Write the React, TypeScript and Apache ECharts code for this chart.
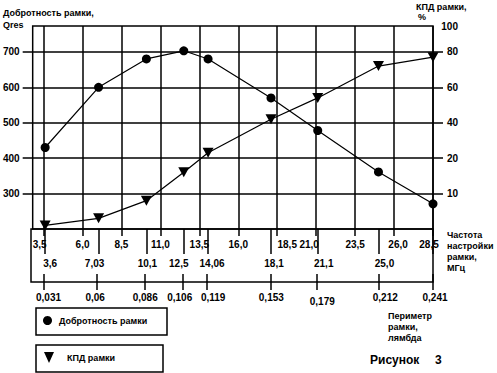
import React, { useEffect, useRef } from 'react';
import * as echarts from 'echarts';

// Frequency grid (MHz) – top row of x labels
const freqTicks = [3.5, 6.0, 8.5, 11.0, 13.5, 16.0, 18.5, 21.0, 23.5, 26.0, 28.5];
// Measured tuning frequencies (MHz) – second row
const measFreq = [3.6, 7.03, 10.1, 12.5, 14.06, 18.1, 21.1, 25.0, 28.5];
const measFreqLabels = ['3,6', '7,03', '10,1', '12,5', '14,06', '18,1', '21,1', '25,0', ''];
// Loop perimeter in wavelengths – third row
const perimeterLabels = ['0,031', '0,06', '0,086', '0,106', '0,119', '0,153', '0,179', '0,212', '0,241'];
// Series values
const qValues = [430, 600, 680, 703, 680, 570, 478, 361, 271];
const kpdValues = [1, 3, 8, 16, 23, 42, 54, 72, 77];
// Left axis (Q) ticks
const qTicks = [300, 400, 500, 600, 700];
// Right axis (efficiency, %) – non-linear scale: percent labels and their Q-axis positions
const kpdScale = [0, 10, 20, 40, 60, 80, 100];
const kpdScalePos = [200, 300, 400, 500, 600, 700, 773];

// Label placement nudges (px) as hand-placed in the original drawing
const row1Nudge = [-4, 0, 0, 0, 0, 0, 10, -7, 0, 4, -4];
const row2Nudge = [5, -4, 1, -5, 4, 3, 6, 6, 0];
const row3Nudge = [5, -2, 0, -3, 6, 1, 5, 7, 2];
const row3Drop = [0, 0, 0, 0, 0, 0, 4, 0, 0];

const FONT = "'Liberation Sans', Arial, sans-serif";

function kpdToAxis(p: number): number {
  for (let i = 0; i < kpdScale.length - 1; i++) {
    if (p <= kpdScale[i + 1]) {
      const t = (p - kpdScale[i]) / (kpdScale[i + 1] - kpdScale[i]);
      return kpdScalePos[i] + t * (kpdScalePos[i + 1] - kpdScalePos[i]);
    }
  }
  return kpdScalePos[kpdScalePos.length - 1];
}

const fmtComma = (v: number) => v.toFixed(1).replace('.', ',');

export default function App() {
  const ref = useRef<HTMLDivElement>(null);

  useEffect(() => {
    if (!ref.current) return;
    const chart = echarts.init(ref.current, undefined, { renderer: 'svg' });
    const black = '#000';
    const txt = { color: black, fontFamily: FONT, fontWeight: 'bold' as const, fontSize: 10 };
    const line15 = { color: black, width: 1.5 };
    const xMin = 2.8;
    const xMax = 28.5;
    const yMin = 200;
    const yMax = 773;

    const makeRich = (prefix: string, shifts: number[], drops?: number[]) => {
      const r: Record<string, any> = {};
      shifts.forEach((d, i) => {
        r[prefix + i] = {
          ...txt,
          padding: [drops ? drops[i] : 0, d < 0 ? -2 * d : 0, 0, d > 0 ? 2 * d : 0],
        };
      });
      return r;
    };

    const text = (s: string, x: number, y: number, size = 9, align = 'left') => ({
      type: 'text',
      x,
      y,
      style: {
        text: s,
        fill: black,
        font: `bold ${size}px ${FONT}`,
        align,
        verticalAlign: 'middle',
      },
    });

    chart.setOption({
      animation: false,
      backgroundColor: '#fff',
      grid: [
        { left: 31, top: 26, right: 64, bottom: 144, show: true, borderColor: black, borderWidth: 1.5, containLabel: false },
        { left: 31, top: 229, right: 64, height: 53, show: true, borderColor: black, borderWidth: 1.5, containLabel: false },
      ],
      xAxis: [
        {
          gridIndex: 0, type: 'value', min: xMin, max: xMax, position: 'bottom',
          axisLine: { show: false },
          axisTick: { show: true, customValues: freqTicks, length: 7, lineStyle: line15 },
          axisLabel: {
            ...txt, customValues: freqTicks, margin: 10,
            formatter: (v: number) => `{f${freqTicks.indexOf(v)}|${fmtComma(v)}}`,
            rich: makeRich('f', row1Nudge),
          },
          splitLine: { show: true, lineStyle: line15 },
        },
        {
          gridIndex: 0, type: 'value', min: xMin, max: xMax, position: 'bottom',
          axisLine: { show: false },
          axisTick: { show: true, customValues: measFreq, length: 25, lineStyle: line15 },
          axisLabel: {
            ...txt, customValues: measFreq, margin: 29,
            formatter: (v: number) => {
              const i = measFreq.indexOf(v);
              return measFreqLabels[i] ? `{m${i}|${measFreqLabels[i]}}` : '';
            },
            rich: makeRich('m', row2Nudge),
          },
          splitLine: { show: false },
        },
        {
          gridIndex: 1, type: 'value', min: xMin, max: xMax, position: 'bottom',
          axisLine: { show: false },
          axisTick: { show: true, customValues: measFreq, length: 8, lineStyle: line15 },
          axisLabel: {
            ...txt, customValues: measFreq, margin: 10,
            formatter: (v: number) => {
              const i = measFreq.indexOf(v);
              return `{p${i}|${perimeterLabels[i]}}`;
            },
            rich: makeRich('p', row3Nudge, row3Drop),
          },
          splitLine: { show: false },
        },
        {
          gridIndex: 1, type: 'value', min: xMin, max: xMax, position: 'bottom',
          axisLine: { show: false },
          axisTick: { show: true, inside: true, customValues: measFreq, length: 8, lineStyle: line15 },
          axisLabel: { show: false },
          splitLine: { show: false },
        },
      ],
      yAxis: [
        {
          gridIndex: 0, type: 'value', min: yMin, max: yMax, position: 'left',
          axisLine: { show: false },
          axisTick: { show: true, customValues: qTicks, length: 10, lineStyle: line15 },
          axisLabel: { ...txt, customValues: qTicks, margin: 13 },
          splitLine: { show: true, lineStyle: line15 },
        },
        {
          gridIndex: 0, type: 'value', min: yMin, max: yMax, position: 'right',
          axisLine: { show: false },
          axisTick: { show: true, customValues: kpdScalePos.slice(1, 6), length: 10, lineStyle: line15 },
          axisLabel: {
            ...txt, customValues: kpdScalePos.slice(1), margin: 25, align: 'right',
            formatter: (v: number) => String(kpdScale[kpdScalePos.indexOf(v)]),
          },
          splitLine: { show: false },
        },
        { gridIndex: 1, type: 'value', min: 0, max: 1, show: false },
      ],
      legend: [
        {
          data: [{ name: 'Добротность рамки', icon: 'circle' }],
          left: 43, top: 316, padding: 0, itemWidth: 11, itemHeight: 9,
          selectedMode: false, textStyle: { ...txt, fontSize: 9, padding: [0, 0, 0, 1] },
        },
        {
          data: [{ name: 'КПД рамки', icon: 'path://M0,0L10,0L5,11Z' }],
          left: 44, top: 352, padding: 0, itemWidth: 10, itemHeight: 11,
          selectedMode: false, textStyle: { ...txt, fontSize: 9, padding: [0, 0, 0, 8] },
        },
      ],
      graphic: [
        { type: 'rect', shape: { x: 36, y: 308, width: 131, height: 27 }, style: { fill: 'none', stroke: black, lineWidth: 1.5 } },
        { type: 'rect', shape: { x: 36, y: 345, width: 127, height: 27 }, style: { fill: 'none', stroke: black, lineWidth: 1.5 } },
        text('Добротность рамки,', 3, 13),
        text('Qres', 3, 25),
        text('КПД рамки,', 416, 7),
        text('%', 418, 17),
        text('Частота', 447, 235),
        text('настройки', 447, 246),
        text('рамки,', 447, 257),
        text('МГц', 447, 268),
        text('Периметр', 388, 316),
        text('рамки,', 388, 327),
        text('лямбда', 388, 338),
        text('Рисунок', 370, 360, 12),
        text('3', 435, 360, 12),
      ],
      series: [
        {
          name: 'Добротность рамки', type: 'line', xAxisIndex: 0, yAxisIndex: 0,
          data: measFreq.map((f, i) => [f, qValues[i]]),
          symbol: 'circle', symbolSize: 9,
          itemStyle: { color: black },
          lineStyle: { color: black, width: 1.2 },
        },
        {
          name: 'КПД рамки', type: 'line', xAxisIndex: 0, yAxisIndex: 0,
          data: measFreq.map((f, i) => [f, kpdToAxis(kpdValues[i])]),
          symbol: 'triangle', symbolRotate: 180, symbolSize: [11, 10],
          itemStyle: { color: black },
          lineStyle: { color: black, width: 1.2 },
        },
      ],
    });
    return () => chart.dispose();
  }, []);

  return <div ref={ref} style={{ position: 'absolute', left: 0, top: 0, width: 497, height: 373 }} />;
}
